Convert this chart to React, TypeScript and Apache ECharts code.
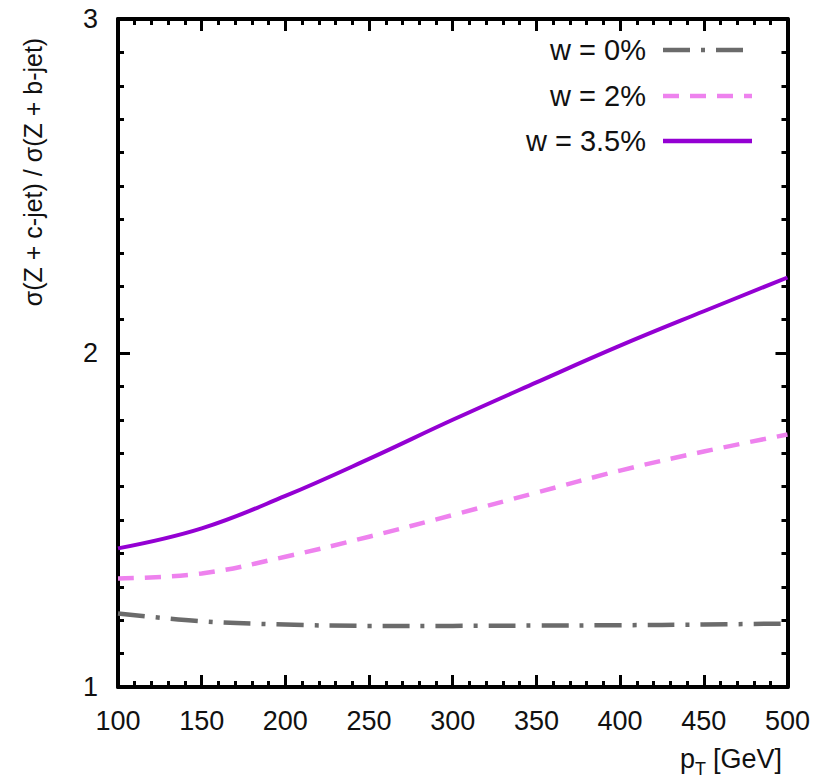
import React, { useEffect, useRef } from "react";
import * as echarts from "echarts";

const pT = [100, 150, 200, 250, 300, 350, 400, 450, 500];
const w0 = [1.22, 1.197, 1.187, 1.183, 1.183, 1.184, 1.185, 1.187, 1.19];
const w2 = [1.325, 1.34, 1.39, 1.45, 1.515, 1.582, 1.648, 1.705, 1.756];
const w35 = [1.415, 1.475, 1.572, 1.683, 1.8, 1.912, 2.022, 2.125, 2.226];
const seriesNames = ["w = 0%", "w = 2%", "w = 3.5%"];
const xTicks = [100, 150, 200, 250, 300, 350, 400, 450, 500];
const yTicks = [1, 2, 3];

const FONT = "Liberation Sans, Arial, Helvetica, sans-serif";
const C_GRAY = "#6b6b6b";
const C_PINK = "#ee82ee";
const C_PURPLE = "#9400d3";

export default function App() {
  const ref = useRef<HTMLDivElement>(null);
  useEffect(() => {
    if (!ref.current) return;
    const chart = echarts.init(ref.current, undefined, { renderer: "svg" });
    const toPairs = (ys: number[]) => pT.map((x, i) => [x, ys[i]]);
    const axisCommon = {
      type: "value" as const,
      axisLine: { show: true, onZero: false, lineStyle: { color: "#000", width: 4 } },
      axisTick: { show: true, inside: true, length: 12, lineStyle: { color: "#000", width: 3 } },
      minorTick: { show: true, length: 6, lineStyle: { color: "#000", width: 3 } },
      splitLine: { show: false },
      minorSplitLine: { show: false },
    };
    const xBase = {
      ...axisCommon,
      min: 100,
      max: 500,
      interval: 50,
      minorTick: { ...axisCommon.minorTick, splitNumber: 5 },
    };
    const yBase = {
      ...axisCommon,
      min: 1,
      max: 3,
      interval: 1,
      minorTick: { ...axisCommon.minorTick, splitNumber: 10 },
    };
    const legendRows = [
      { name: seriesNames[0], y: 50, color: C_GRAY, dash: [27, 11, 4, 11] },
      { name: seriesNames[1], y: 96, color: C_PINK, dash: [16, 11] },
      { name: seriesNames[2], y: 141, color: C_PURPLE, dash: null as number[] | null },
    ];
    const graphics: any[] = [];
    legendRows.forEach((r) => {
      graphics.push({
        type: "text",
        x: 646,
        y: r.y,
        style: {
          text: r.name,
          fontSize: 29,
          fontFamily: FONT,
          fill: "#111",
          align: "right",
          verticalAlign: "middle",
        },
      });
      graphics.push({
        type: "line",
        shape: { x1: 663, y1: r.y, x2: 752, y2: r.y },
        style: { stroke: r.color, lineWidth: 4.5, lineDash: r.dash || undefined },
      });
    });
    graphics.push({
      type: "text",
      x: 33,
      y: 172,
      rotation: Math.PI / 2,
      style: {
        text: "σ(Z + c-jet) / σ(Z + b-jet)",
        fontSize: 25,
        fontFamily: FONT,
        fill: "#111",
        align: "center",
        verticalAlign: "middle",
      },
    });
    graphics.push(
      {
        type: "text",
        x: 680,
        y: 759,
        style: { text: "p", fontSize: 27, fontFamily: FONT, fill: "#111", align: "left", verticalAlign: "middle" },
      },
      {
        type: "text",
        x: 695,
        y: 769,
        style: { text: "T", fontSize: 18, fontFamily: FONT, fill: "#111", align: "left", verticalAlign: "middle" },
      },
      {
        type: "text",
        x: 713,
        y: 759,
        style: { text: "[GeV]", fontSize: 27, fontFamily: FONT, fill: "#111", align: "left", verticalAlign: "middle" },
      }
    );

    chart.setOption({
      animation: false,
      backgroundColor: "#fff",
      grid: { left: 118, right: 25, top: 19, bottom: 91, containLabel: false },
      xAxis: [
        {
          ...xBase,
          position: "bottom",
          axisLabel: {
            show: true,
            margin: 20,
            fontSize: 27,
            fontFamily: FONT,
            color: "#111",
            customValues: xTicks,
          },
        },
        { ...xBase, position: "top", axisLabel: { show: false } },
      ],
      yAxis: [
        {
          ...yBase,
          position: "left",
          axisLabel: {
            show: true,
            margin: 20,
            fontSize: 27,
            fontFamily: FONT,
            color: "#111",
            customValues: yTicks,
          },
        },
        { ...yBase, position: "right", axisLabel: { show: false } },
      ],
      series: [
        {
          name: seriesNames[0],
          type: "line",
          data: toPairs(w0),
          smooth: 0.4,
          showSymbol: false,
          lineStyle: { color: C_GRAY, width: 4.5, type: [27, 11, 4, 11] },
          z: 3,
        },
        {
          name: seriesNames[1],
          type: "line",
          data: toPairs(w2),
          smooth: 0.4,
          showSymbol: false,
          lineStyle: { color: C_PINK, width: 4.5, type: [16, 11] },
          z: 3,
        },
        {
          name: seriesNames[2],
          type: "line",
          data: toPairs(w35),
          smooth: 0.4,
          showSymbol: false,
          lineStyle: { color: C_PURPLE, width: 4, type: "solid" },
          z: 3,
        },
      ],
      graphic: graphics,
    });
    return () => chart.dispose();
  }, []);
  return <div ref={ref} style={{ width: 813, height: 778, position: "absolute", left: 0, top: 0 }} />;
}
